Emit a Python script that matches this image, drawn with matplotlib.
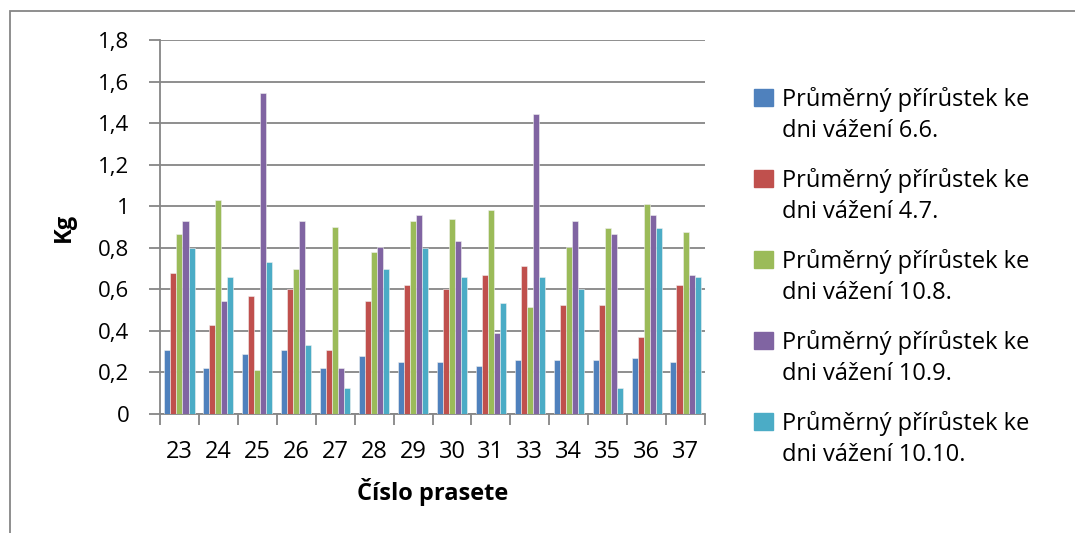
import numpy as np
import matplotlib
matplotlib.use("Agg")
import matplotlib.pyplot as plt
from matplotlib.patches import Rectangle

plt.rcParams['font.family'] = ['Open Sans', 'DejaVu Sans']

# cislo prasete
pigs = ['23', '24', '25', '26', '27', '28', '29', '30', '31', '33', '34', '35', '36', '37']

w_6_6 = [0.31, 0.22, 0.29, 0.31, 0.22, 0.28, 0.25, 0.25, 0.23, 0.26, 0.26, 0.26, 0.27, 0.25]
w_4_7 = [0.68, 0.43, 0.57, 0.60, 0.31, 0.545, 0.62, 0.60, 0.67, 0.71, 0.525, 0.525, 0.37, 0.62]
w_10_8 = [0.865, 1.03, 0.21, 0.70, 0.90, 0.78, 0.93, 0.94, 0.98, 0.515, 0.805, 0.895, 1.01, 0.875]
w_10_9 = [0.93, 0.545, 1.545, 0.93, 0.22, 0.805, 0.96, 0.835, 0.39, 1.445, 0.93, 0.865, 0.96, 0.67]
w_10_10 = [0.80, 0.66, 0.73, 0.33, 0.127, 0.70, 0.80, 0.66, 0.535, 0.66, 0.60, 0.127, 0.895, 0.66]

labels = ['Průměrný přírůstek ke\ndni vážení 6.6.',
          'Průměrný přírůstek ke\ndni vážení 4.7.',
          'Průměrný přírůstek ke\ndni vážení 10.8.',
          'Průměrný přírůstek ke\ndni vážení 10.9.',
          'Průměrný přírůstek ke\ndni vážení 10.10.']
colors = ['#4F81BD', '#C0504D', '#9BBB59', '#8064A2', '#4BACC6']

series = [w_6_6, w_4_7, w_10_8, w_10_9, w_10_10]

W, H = 1075, 533
fig = plt.figure(figsize=(W / 100, H / 100), dpi=100)
ax = fig.add_axes([160/W, 119/H, 545/W, 374/H])

x = np.arange(len(pigs))
bw = 0.155
for i, (vals, c, lab) in enumerate(zip(series, colors, labels)):
    ax.bar(x + (i - 2) * bw, vals, bw, color=c, label=lab,
           edgecolor='#f0f0f0', linewidth=0.4, zorder=3)

ax.set_xlim(-0.5, len(pigs) - 0.5)
ax.set_ylim(0, 1.8)
ax.set_yticks(np.arange(0, 1.81, 0.2))
ax.set_yticklabels(['0', '0,2', '0,4', '0,6', '0,8', '1', '1,2', '1,4', '1,6', '1,8'])
ax.set_xticks(x)
ax.set_xticklabels(pigs)
ax.set_xticks(np.arange(-0.5, len(pigs), 1), minor=True)
ax.tick_params(axis='x', which='major', length=0, pad=19, labelsize=17)
ax.tick_params(axis='x', which='minor', length=8, width=1.3, color='#868686', direction='out')
ax.tick_params(axis='y', length=8, width=1.3, color='#868686', labelsize=16, pad=14)

ax.grid(axis='y', color='#868686', linewidth=1.3, zorder=0)
for s in ['top', 'right']:
    ax.spines[s].set_visible(False)
for s in ['left', 'bottom']:
    ax.spines[s].set_color('#868686')
    ax.spines[s].set_linewidth(1.3)

ax.set_ylabel('Kg', fontsize=17, fontweight='bold', labelpad=16)
ax.set_xlabel('Číslo prasete', fontsize=17, fontweight='bold', labelpad=10)

# legenda jako v Excelu - ctverecek u prvniho radku
for i, (c, lab) in enumerate(zip(colors, labels)):
    top = 89 + i * 81
    fig.patches.append(Rectangle((754/W, 1 - (top + 17)/H), 19/W, 17/H,
                                 transform=fig.transFigure, color=c))
    for j, line in enumerate(lab.split('\n')):
        fig.text(782/W, 1 - (top + 17 + j * 30.7)/H, line, fontsize=17,
                 va='baseline', ha='left')

fig.patches.append(Rectangle((10/W, -0.05), 1.2, 1 - 11/H + 0.05,
                             transform=fig.transFigure, fill=False,
                             edgecolor='#868686', linewidth=1.3))

fig.savefig('out.png', dpi=100)
